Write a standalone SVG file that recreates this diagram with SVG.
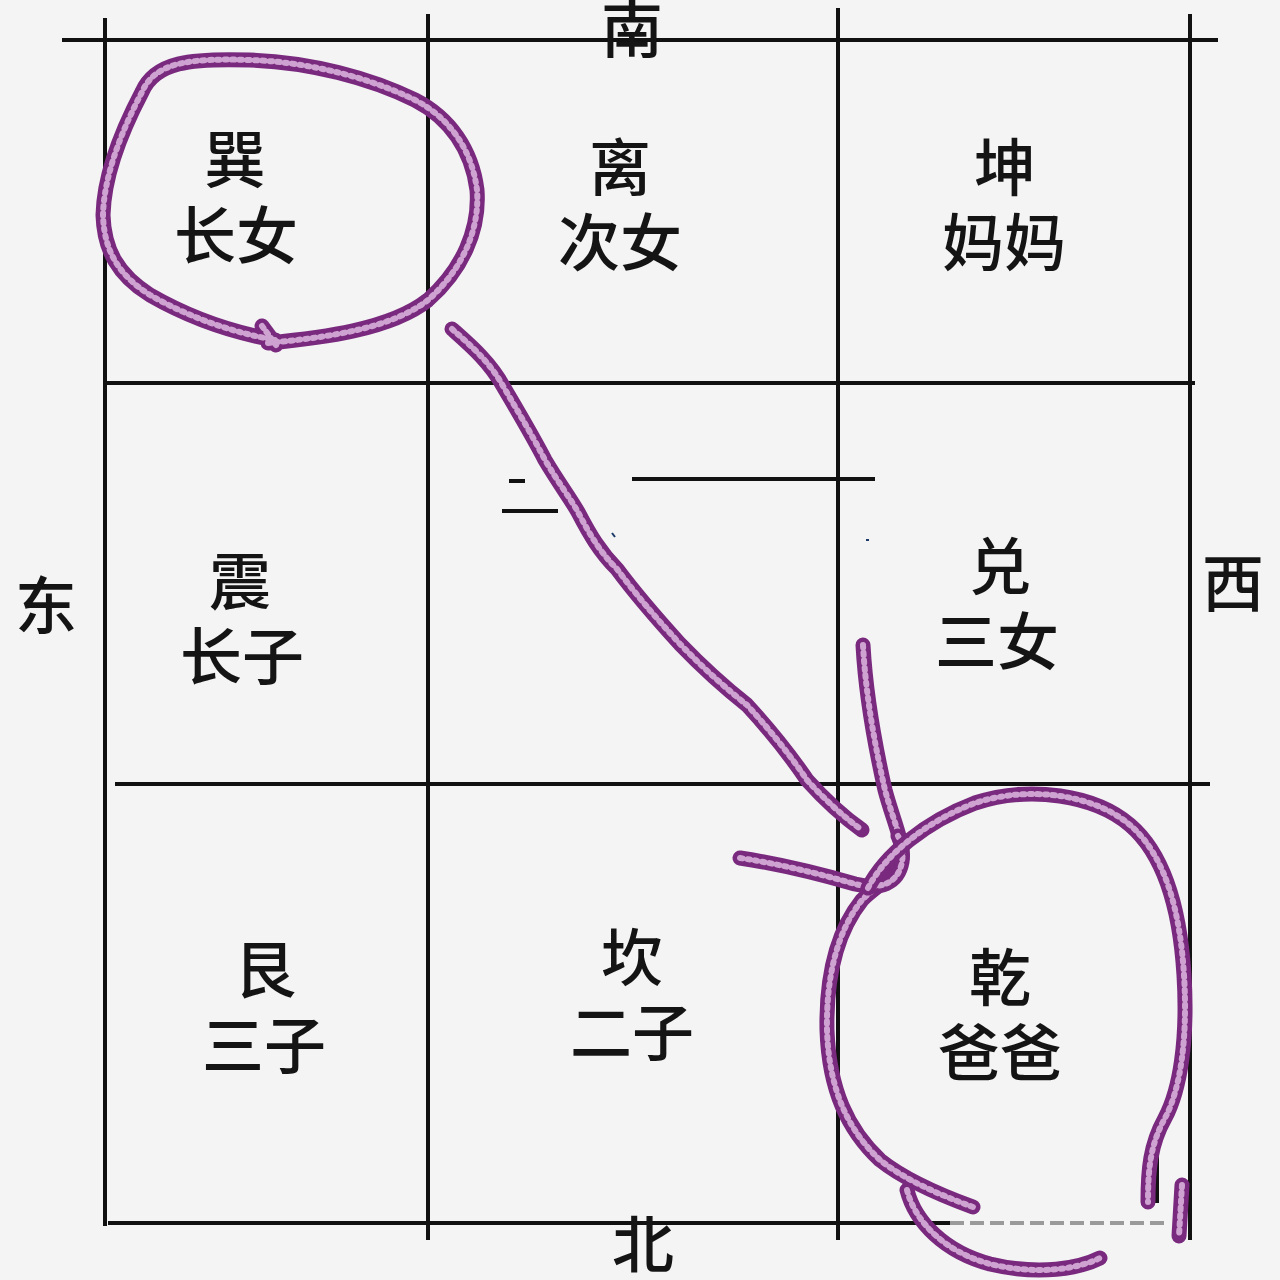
<svg xmlns="http://www.w3.org/2000/svg" xmlns:xlink="http://www.w3.org/1999/xlink" width="1280" height="1280" viewBox="0 0 1280 1280">
<style>
.g{stroke:#111;stroke-width:4;fill:none;stroke-linecap:butt}
.t{font-family:"Noto Sans CJK SC","Noto Sans CJK TC",sans-serif;font-size:62px;font-weight:500;fill:#141414;text-anchor:middle}
.d{font-family:"Noto Sans CJK SC","Noto Sans CJK TC",sans-serif;font-size:62px;font-weight:500;fill:#141414;text-anchor:middle}
.ink{fill:none;stroke:#7a2a7e;stroke-width:15;stroke-linecap:round;stroke-linejoin:round}
.hi{fill:none;stroke:#cfa3d1;stroke-width:6;stroke-linecap:round;stroke-dasharray:2.5 5}
</style>
<defs>
<path id="c1" d="M262,326 L276,345 M268,343 C320,338 390,330 428,300 C462,270 480,230 477,190 C472,150 450,118 415,100 C370,78 310,62 250,60 C190,58 155,62 142,92 C122,130 104,175 103,215 C104,250 118,275 150,295 C190,318 235,333 275,340"/>
<path id="a1" d="M452,329 C470,345 490,362 503,386 C520,415 532,435 545,460 C558,482 570,498 578,512 C590,535 600,552 617,569 C640,600 660,622 680,644 C705,670 728,690 747,705 C770,730 790,755 807,780 C825,800 845,818 862,830"/>
<path id="a2" d="M863,645 C866,700 876,750 885,790 C893,820 903,840 902,858 C900,875 880,882 862,900 C838,930 826,975 827,1030 C829,1090 848,1130 880,1160 C905,1180 940,1195 973,1207"/>
<path id="a3" d="M740,858 C780,864 820,874 855,884 C880,890 898,884 902,862 C904,848 900,840 898,836"/>
<path id="c2" d="M868,888 C885,855 925,822 975,803 C1030,785 1095,795 1130,825 C1165,855 1180,910 1184,975 C1188,1040 1180,1090 1165,1118 C1150,1145 1148,1170 1148,1202"/>
<path id="c3" d="M907,1190 C915,1222 945,1252 990,1264 C1040,1276 1080,1268 1100,1258"/>
<path id="c4" d="M1182,1185 L1179,1236"/>
</defs>
<rect width="1280" height="1280" fill="#f4f4f4"/>
<g id="grid">
<line class="g" x1="62" y1="40" x2="1218" y2="40"/>
<line class="g" x1="105" y1="383" x2="1195" y2="383"/>
<line class="g" x1="115" y1="784" x2="1210" y2="784"/>
<line class="g" x1="108" y1="1223" x2="950" y2="1223"/>
<line x1="950" y1="1223" x2="1165" y2="1223" stroke="#9a9a9a" stroke-width="4" stroke-dasharray="14 6"/>
<line class="g" x1="105" y1="18" x2="105" y2="1226"/>
<line class="g" x1="428" y1="14" x2="428" y2="1240"/>
<line class="g" x1="838" y1="8" x2="838" y2="1240"/>
<line class="g" x1="1190" y1="14" x2="1190" y2="1240"/>
<line class="g" x1="1157" y1="1150" x2="1157" y2="1203"/>
<line class="g" x1="632" y1="479" x2="875" y2="479"/>
<line class="g" x1="509" y1="481" x2="525" y2="481"/>
<line class="g" x1="502" y1="511" x2="558" y2="511"/>
<path d="M612,533 L615,537" stroke="#1b3a6a" stroke-width="2" fill="none"/>
<path d="M866,540 L869,540" stroke="#1b3a6a" stroke-width="2" fill="none"/>
</g>
<g id="directions">
<text class="d" x="632" y="53">南</text>
<text class="d" x="46" y="629">东</text>
<text class="d" x="1233" y="607">西</text>
<text class="d" x="643" y="1268">北</text>
</g>
<g id="xun"><text class="t"><tspan x="235" y="183">巽</tspan><tspan x="236" y="259">长女</tspan></text></g>
<g id="li"><text class="t"><tspan x="620" y="191">离</tspan><tspan x="620" y="266">次女</tspan></text></g>
<g id="kun"><text class="t"><tspan x="1005" y="191">坤</tspan><tspan x="1004" y="266">妈妈</tspan></text></g>
<g id="zhen"><text class="t"><tspan x="240" y="605">震</tspan><tspan x="242" y="680">长子</tspan></text></g>
<g id="dui"><text class="t"><tspan x="1000" y="590">兑</tspan><tspan x="997" y="665">三女</tspan></text></g>
<g id="gen"><text class="t"><tspan x="265" y="993">艮</tspan><tspan x="264" y="1069">三子</tspan></text></g>
<g id="kan"><text class="t"><tspan x="632" y="981">坎</tspan><tspan x="632" y="1056">二子</tspan></text></g>
<g id="qian"><text class="t"><tspan x="1000" y="1001">乾</tspan><tspan x="1000" y="1076">爸爸</tspan></text></g>
<g id="connectors">
<use href="#c1" class="ink"/><use href="#c1" class="hi"/>
<use href="#a1" class="ink"/><use href="#a1" class="hi"/>
<use href="#a2" class="ink"/><use href="#a2" class="hi"/>
<use href="#a3" class="ink"/><use href="#a3" class="hi"/>
<use href="#c2" class="ink"/><use href="#c2" class="hi"/>
<use href="#c3" class="ink"/><use href="#c3" class="hi"/>
<use href="#c4" class="ink"/><use href="#c4" class="hi"/>
</g>
</svg>
